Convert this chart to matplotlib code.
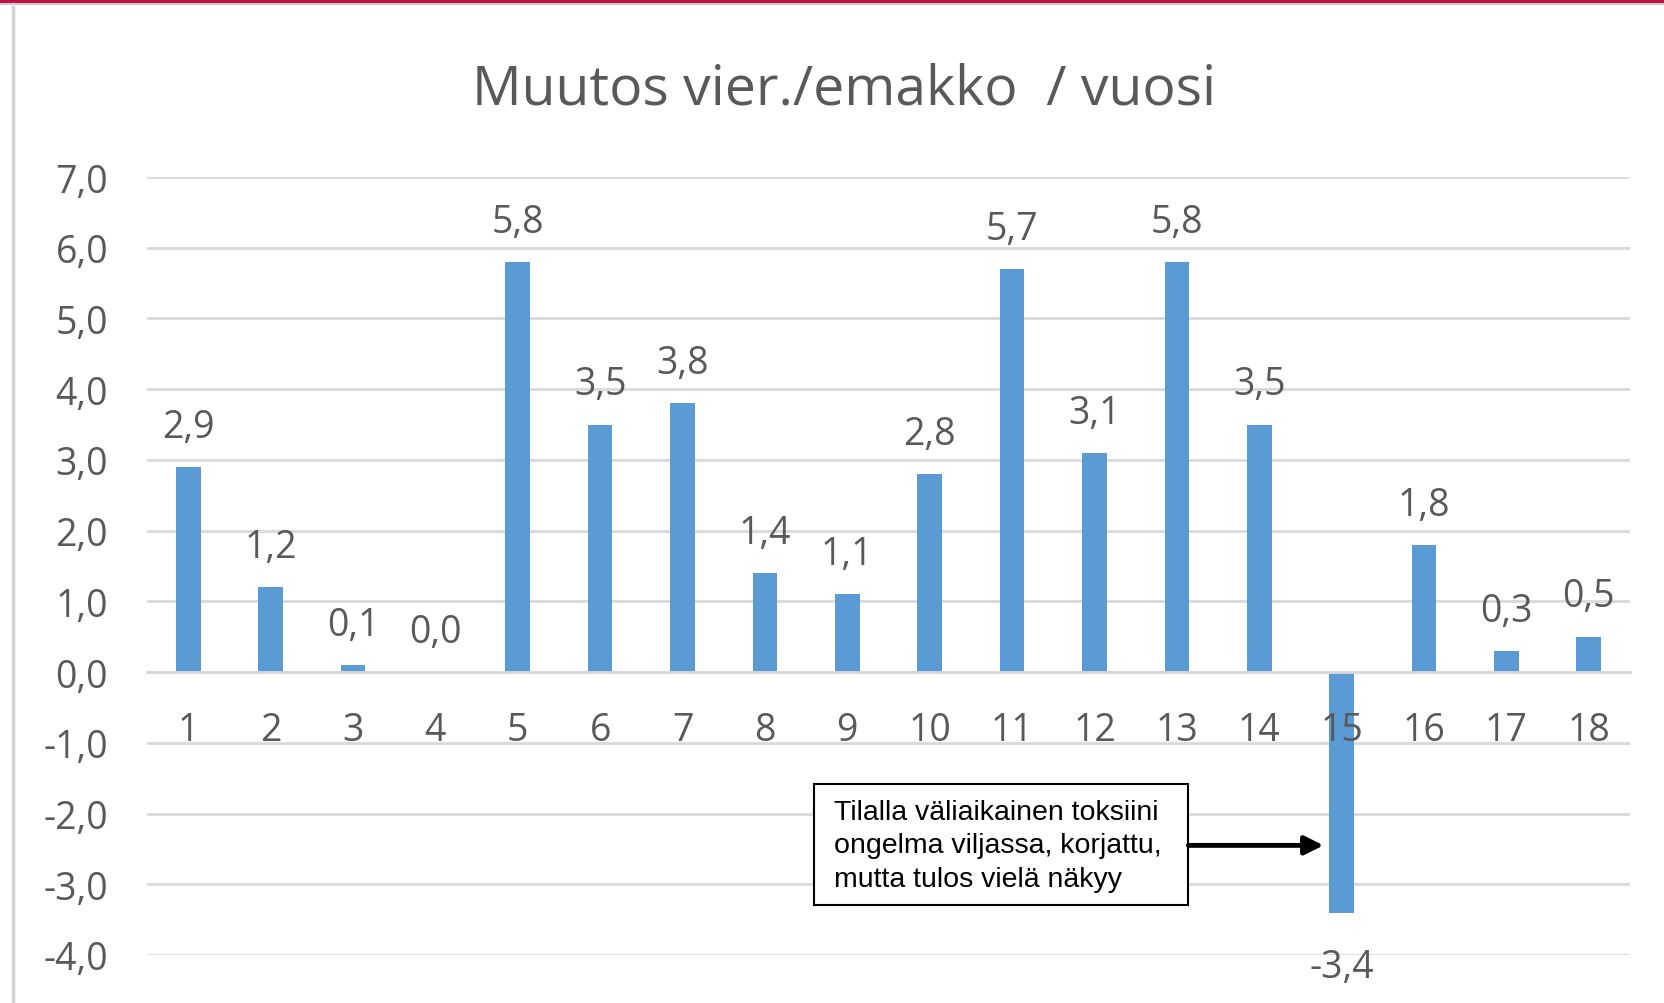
import numpy as np
import matplotlib.pyplot as plt
from matplotlib.lines import Line2D
from matplotlib.patches import Rectangle
from matplotlib.ticker import FuncFormatter

# data
farms = [str(i) for i in range(1, 19)]
change = [2.9, 1.2, 0.1, 0.0, 5.8, 3.5, 3.8, 1.4, 1.1, 2.8,
          5.7, 3.1, 5.8, 3.5, -3.4, 1.8, 0.3, 0.5]
y_ticks = [-4, -3, -2, -1, 0, 1, 2, 3, 4, 5, 6, 7]
title = "Muutos vier./emakko  / vuosi"
note = "Tilalla väliaikainen toksiini\nongelma viljassa, korjattu,\nmutta tulos vielä näkyy"


def fi(v):
    return f"{v:.1f}".replace(".", ",")


plt.rcParams["font.family"] = ["Open Sans", "DejaVu Sans"]
grey = "#595959"
bar_col = "#5B9BD5"

fig = plt.figure(figsize=(16.64, 10.04), dpi=100)
ax = fig.add_axes([147 / 1664, 48 / 1004, (1630 - 147) / 1664, (956 - 178) / 1004])

x = np.arange(1, len(farms) + 1)
ax.bar(x, change, width=0.3, color=bar_col, zorder=2)

ax.set_xlim(0.5, len(farms) + 0.5)
ax.set_ylim(-4, 7)
ax.set_yticks(y_ticks)
ax.yaxis.set_major_formatter(FuncFormatter(lambda v, p: fi(v)))
ax.grid(axis="y", color="#D9D9D9", lw=2)
ax.yaxis.set_zorder(0.5)
ax.xaxis.set_zorder(3)

for s in ["top", "right", "left"]:
    ax.spines[s].set_visible(False)
ax.spines["bottom"].set_position(("data", 0))
ax.spines["bottom"].set_color("#D9D9D9")
ax.spines["bottom"].set_linewidth(2)

ax.set_xticks(x, farms)
ax.tick_params(axis="x", length=0, pad=28, labelsize=27, labelcolor=grey)
ax.tick_params(axis="y", length=0, pad=28, labelsize=27, labelcolor=grey)

# value labels
for xi, v in zip(x, change):
    off = 29 if v >= 0 else -39
    ax.annotate(fi(v), (xi, v), xytext=(0, off), textcoords="offset points",
                ha="center", va="center", fontsize=27, color=grey,
                annotation_clip=False)

fig.text(844 / 1664, 1 - 90 / 1004, title, ha="center", va="center",
         fontsize=39.8, color=grey)

# comment box with arrow to the negative bar
box_x0, box_x1, box_y0, box_y1 = 8.60, 13.14, -3.30, -1.586
ax.add_patch(Rectangle((box_x0, box_y0), box_x1 - box_x0, box_y1 - box_y0,
                       fc="white", ec="black", lw=1.5, zorder=4))
ax.text(8.84, -2.45, note, ha="left", va="center", fontsize=20.5,
        family="Liberation Sans", linespacing=1.36, zorder=5)
ax.annotate("", xy=(14.78, -2.45), xytext=(box_x1, -2.45),
            arrowprops=dict(arrowstyle="-|>", color="black", lw=3.5,
                            mutation_scale=28, shrinkA=0, shrinkB=0),
            zorder=4)

# slide frame bits
fig.add_artist(Line2D([0, 1], [1 - 1.5 / 1004] * 2, color="#C0103C", lw=2.5))
fig.add_artist(Line2D([0, 1], [1 - 4.5 / 1004] * 2, color="#C8C8E0", lw=1.5))
fig.add_artist(Line2D([12.5 / 1664] * 2, [0, 1 - 8 / 1004], color="#D3D3D3", lw=2.5))

fig.savefig("out.png", dpi=100)
